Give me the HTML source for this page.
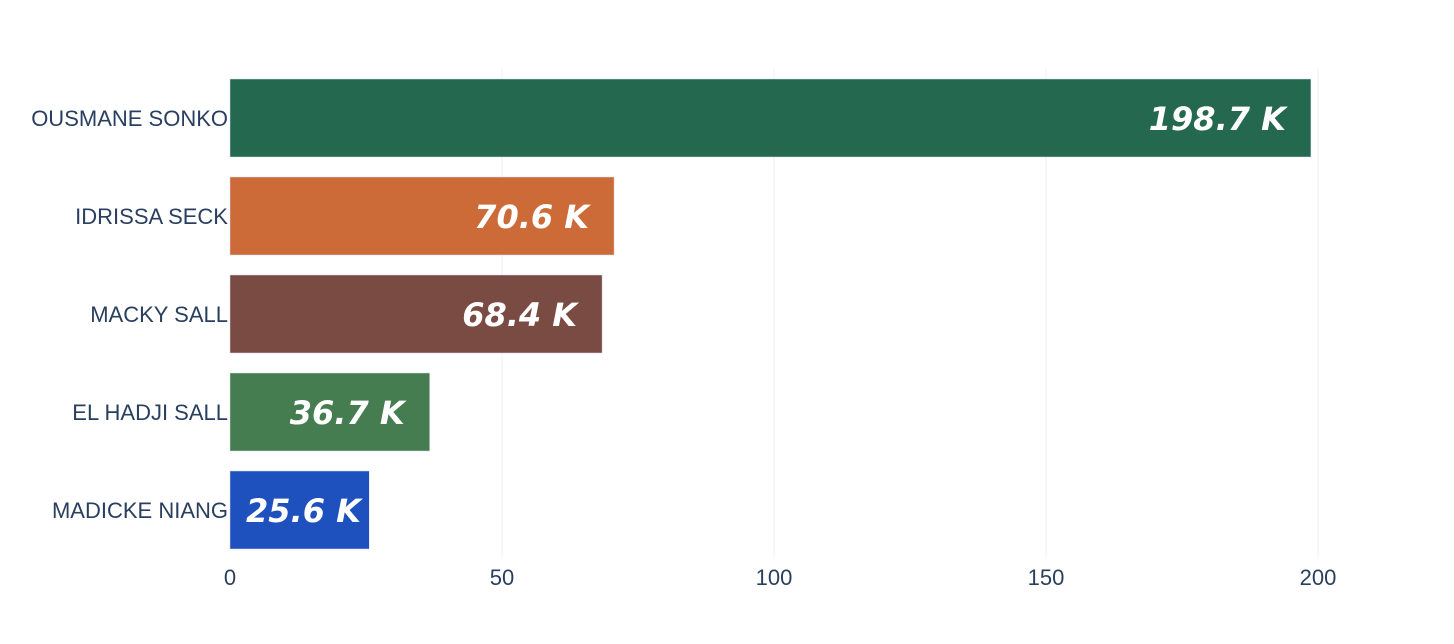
<!DOCTYPE html>
<html><head><meta charset="utf-8"><style>
body{margin:0;background:#fff;}
svg{display:block;}
</style></head><body>
<svg id="chart" width="1454" height="644" xmlns="http://www.w3.org/2000/svg"></svg>
<script>
const categories=["OUSMANE SONKO","IDRISSA SECK","MACKY SALL","EL HADJI SALL","MADICKE NIANG"];
const values=[198.7,70.6,68.4,36.7,25.6];
const valueLabels=["198.7 K","70.6 K","68.4 K","36.7 K","25.6 K"];
const colors=["#256850","#cc6b38","#7a4b42","#457d50","#1e50be"];
const ticks=[0,50,100,150,200];
const svgEl=document.getElementById('chart');
const NS='http://www.w3.org/2000/svg';
const x0=230,pxPer=5.44,plotTop=69,band=98,barH=78;
const xs=v=>x0+v*pxPer;
const yb=i=>plotTop+i*band+(band-barH)/2;
function mk(t,a){const e=document.createElementNS(NS,t);for(const k in a)e.setAttribute(k,a[k]);svgEl.appendChild(e);return e;}
ticks.forEach(t=>{
  if(t>0){const g=mk('line',{x1:xs(t),x2:xs(t),y1:plotTop,y2:plotTop+band*5,stroke:'#ebf0f8','stroke-width':1});
  
  }
  const l=mk('text',{x:xs(t),y:585,'text-anchor':'middle','font-family':'Liberation Sans, sans-serif','font-size':22,fill:'#2a3f5f'});
  l.textContent=t;
  
  
});
categories.forEach((c,i)=>{
  const r=mk('rect',{x:x0,y:yb(i),width:xs(values[i])-x0,height:barH,fill:colors[i],stroke:'#d8dcf0','stroke-width':0.5});
  
  
  const cl=mk('text',{x:228,y:yb(i)+barH/2+8,'text-anchor':'end','font-family':'Liberation Sans, sans-serif','font-size':22,fill:'#2a3f5f'});
  cl.textContent=c;
  
  
  const vl=mk('text',{x:0,y:yb(i)+barH/2+12,'text-anchor':'end','font-family':'DejaVu Sans, sans-serif','font-size':32,'font-weight':'bold','font-style':'italic',fill:'#fff'});
  vl.textContent=valueLabels[i];
  
  
  const w=vl.getComputedTextLength();
  vl.setAttribute('x',Math.max(xs(values[i])-25,x0+16+w));
});
</script>
</body></html>
